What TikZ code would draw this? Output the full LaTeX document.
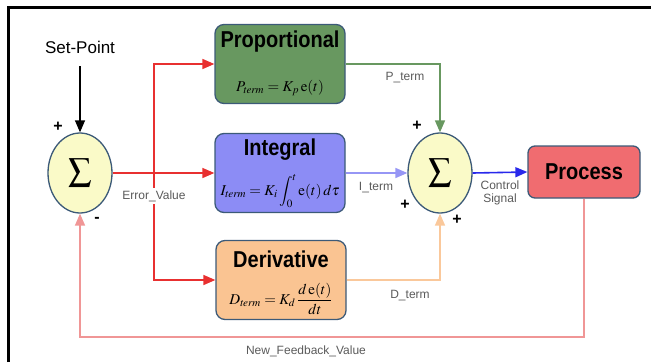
\documentclass[tikz,border=0pt]{standalone}
\usepackage{amsmath}
\usepackage{mathptmx}
\usepackage[no-math]{fontspec}
\setmainfont{Liberation Sans}
\usetikzlibrary{shapes.geometric,arrows.meta}

\definecolor{propfill}{RGB}{104,152,96}
\definecolor{integfill}{RGB}{140,140,245}
\definecolor{derivfill}{RGB}{250,196,146}
\definecolor{procfill}{RGB}{240,108,112}
\definecolor{sumfill}{RGB}{250,250,200}
\definecolor{boxedge}{RGB}{60,90,120}
\definecolor{errred}{RGB}{232,48,48}
\definecolor{pgreen}{RGB}{104,152,96}
\definecolor{iblue}{RGB}{150,150,245}
\definecolor{dorange}{RGB}{250,200,155}
\definecolor{ctrlblue}{RGB}{40,40,235}
\definecolor{fbpink}{RGB}{240,150,150}
\definecolor{labelgray}{RGB}{90,90,90}

\newcommand{\tallbold}[1]{\scalebox{1}[1.15]{#1}}

\tikzset{
  sumnode/.style={ellipse, draw=boxedge, line width=1.3pt, fill=sumfill,
    minimum width=64pt, minimum height=80pt, inner sep=0pt},
  termbox/.style={rectangle, rounded corners=9pt, draw=boxedge, line width=1.3pt,
    minimum width=130pt, minimum height=79pt},
  titletext/.style={font=\fontsize{20}{22}\selectfont\bfseries, inner sep=0pt},
  formula/.style={font=\fontsize{15}{16}\selectfont, inner sep=0pt},
  sigtext/.style={font=\fontsize{12}{13}\selectfont, text=labelgray, inner sep=0pt, align=center},
  signtext/.style={font=\fontsize{16}{16}\selectfont\bfseries, inner sep=0pt},
  flow/.style={line width=1.6pt, -{Triangle[length=12pt,width=10pt]}}
}

\begin{document}
\begin{tikzpicture}[x=1pt,y=-1pt]
\useasboundingbox (0,0) rectangle (651,362);

% frame (top and left edges)
\draw[line width=3pt] (8,362) -- (8,7) -- (651,7);

% summing junctions
\node[sumnode] (sumL) at (80,173) {\fontsize{23}{23}\selectfont$\displaystyle\sum$};
\node[sumnode] (sumR) at (440,173) {\fontsize{23}{23}\selectfont$\displaystyle\sum$};

% set-point input
\node[font=\fontsize{17}{18}\selectfont, inner sep=0pt] (sp) at (80,47) {Set-Point};
\coordinate (spend) at (80,66);
\draw[flow, black, line width=1.3pt] (spend) -- (sumL.north);
\node[signtext] (plusL) at (58,127) {+};
\node[signtext] (minusL) at (97,220) {-};

% controller terms
\node[termbox, fill=propfill] (prop) at (280,64) {};
\node[titletext] (propT) at (280,42) {\tallbold{Proportional}};
\node[formula] (propF) at (280,88) {$P_{\mathit{term}}=K_{p}\,\mathrm{e}(t)$};

\node[termbox, fill=integfill] (integ) at (280,173) {};
\node[titletext] (integT) at (280,150) {\tallbold{Integral}};
\node[formula] (integF) at (280,191) {$I_{\mathit{term}}=K_{i}\displaystyle\int_{0}^{t}\mathrm{e}(t)\,d\tau$};

\node[termbox, fill=derivfill] (deriv) at (281,280) {};
\node[titletext] (derivT) at (281,259) {\tallbold{Derivative}};
\node[formula] (derivF) at (281,299) {$D_{\mathit{term}}=K_{d}\,\dfrac{d\,\mathrm{e}(t)}{dt}$};

% plant
\node[rectangle, rounded corners=7pt, draw=boxedge, line width=1.3pt, fill=procfill,
  minimum width=112pt, minimum height=52pt, titletext] (proc) at (584,172) {\tallbold{Process}};

% error signal and its branches
\coordinate (br) at (154,173);
\draw[flow, errred] (sumL.east) -- (integ.west);
\draw[flow, errred] (br) |- (prop.west);
\draw[flow, errred] (br) |- (deriv.west);
\node[sigtext, fill=white, inner sep=2pt] (errlbl) at (154,196) {Error\_Value};

% term outputs into the second junction
\draw[flow, pgreen] (prop.east) -| (sumR.north);
\node[sigtext] (plbl) at (405,78) {P\_term};
\draw[flow, iblue] (integ.east) -- (sumR.west);
\node[sigtext] (ilbl) at (376,188) {I\_term};
\draw[flow, dorange] (deriv.east) -| (sumR.south);
\node[sigtext] (dlbl) at (410,296) {D\_term};
\node[signtext] (plusR1) at (417,126) {+};
\node[signtext] (plusR2) at (405,205) {+};
\node[signtext] (plusR3) at (457,220) {+};

% control signal
\draw[flow, ctrlblue] (sumR.east) -- (proc.west);
\node[sigtext] (clbl) at (500,193) {Control\\Signal};

% feedback path
\coordinate (fbR) at (proc.south |- 0,337);
\coordinate (fbL) at (80,337);
\draw[flow, fbpink] (proc.south) -- (fbR) -- (fbL) -- (sumL.south);
\node[sigtext] (fblbl) at (306,351) {New\_Feedback\_Value};
\end{tikzpicture}
\end{document}
